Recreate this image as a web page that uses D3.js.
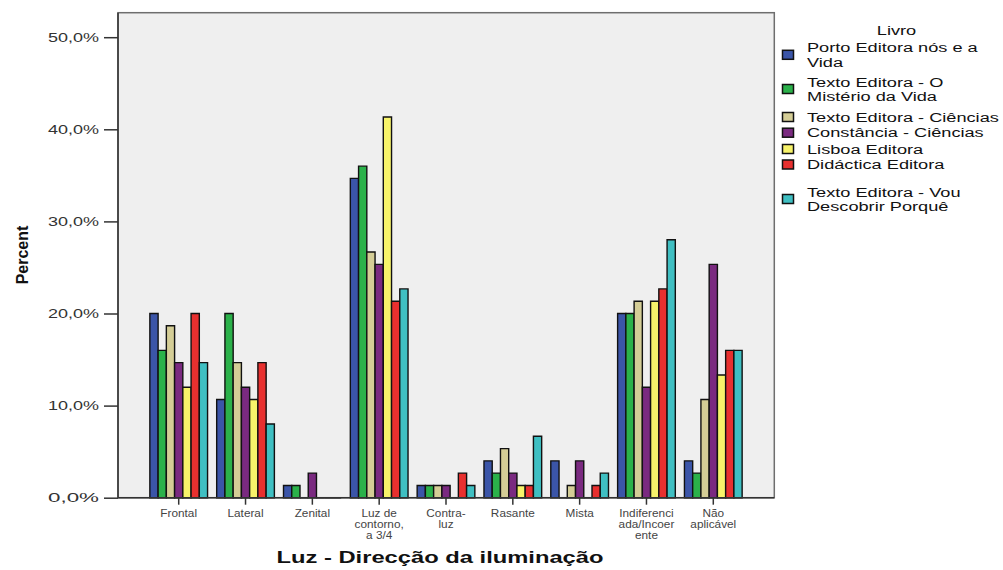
<!DOCTYPE html>
<html><head><meta charset="utf-8">
<script src="https://cdn.jsdelivr.net/npm/d3@7"></script>
<style>
html,body{margin:0;padding:0;background:#fff;}
text{font-family:"Liberation Sans",Arial,sans-serif;}
</style></head>
<body>
<svg id="c" width="1003" height="570"></svg>
<script>
const categories = ["Frontal","Lateral","Zenital","Luz de contorno, a 3/4","Contra-luz","Rasante","Mista","Indiferenciada/Incoerente","Não aplicável"];
const categoryLabelLines = [["Frontal"],["Lateral"],["Zenital"],["Luz de","contorno,","a 3/4"],["Contra-","luz"],["Rasante"],["Mista"],["Indiferenci","ada/Incoer","ente"],["Não","aplicável"]];
const seriesNames = ["Porto Editora nós e a Vida","Texto Editora - O Mistério da Vida","Texto Editora - Ciências","Constância - Ciências","Lisboa Editora","Didáctica Editora","Texto Editora - Vou Descobrir Porquê"];
const seriesLegendLines = [["Porto Editora nós e a","Vida"],["Texto Editora - O","Mistério da Vida"],["Texto Editora - Ciências"],["Constância - Ciências"],["Lisboa Editora"],["Didáctica Editora"],["Texto Editora - Vou","Descobrir Porquê"]];
const seriesColors = ["#3b55a8","#2bb14a","#d4cd96","#7a2a80","#f7f36a","#e8302f","#3fbfc2"];
const portoValues     = [20.0,10.67,1.33,34.67,1.33,4.0,4.0,20.0,4.0];
const misterioValues  = [16.0,20.0,1.33,36.0,1.33,2.67,0,20.0,2.67];
const cienciasValues  = [18.67,14.67,0,26.67,1.33,5.33,1.33,21.33,10.67];
const constanciaValues= [14.67,12.0,2.67,25.33,1.33,2.67,4.0,12.0,25.33];
const lisboaValues    = [12.0,10.67,0,41.33,0,1.33,0,21.33,13.33];
const didacticaValues = [20.0,14.67,0,21.33,2.67,1.33,1.33,22.67,16.0];
const vouValues       = [14.67,8.0,0,22.67,1.33,6.67,2.67,28.0,16.0];
const seriesValues = [portoValues,misterioValues,cienciasValues,constanciaValues,lisboaValues,didacticaValues,vouValues];
const yTicks = [0,10,20,30,40,50];
const yTickLabels = ["0,0%","10,0%","20,0%","30,0%","40,0%","50,0%"];
const yTitle = "Percent";
const xTitle = "Luz - Direcção da iluminação";
const legendTitle = "Livro";

const svg = d3.select("#c");
const plot = {l:118, r:774.3, t:12.7, b:497.7};

const x = d3.scaleBand().domain(categories).range([145.3, 746.7]).padding(0);
const xs = d3.scaleBand().domain(d3.range(seriesNames.length)).range([-28.85, 28.85]).padding(0);
const y = d3.scaleLinear().domain([0, 52.66]).range([plot.b, plot.t]);

svg.append("rect").attr("x",plot.l).attr("y",plot.t).attr("width",plot.r-plot.l).attr("height",plot.b-plot.t)
  .attr("fill","#efefef").attr("stroke","#6e6e6e").attr("stroke-width",1.5);

// bars
const gBars = svg.append("g");
seriesValues.forEach((vals, si) => {
  gBars.selectAll(null).data(vals.map((v,ci)=>({v,ci}))).enter().append("path")
    .attr("d", d => {
      const x0 = x(categories[d.ci]) + x.bandwidth()/2 + xs(si);
      const x1 = x0 + xs.bandwidth();
      const y0 = y(0), y1 = y(d.v);
      return `M${x0},${y0}V${y1}H${x1}V${y0}Z`;
    })
    .attr("fill", seriesColors[si]).attr("stroke","#111").attr("stroke-width",1.4)
    .attr("stroke-linejoin","miter");
});

// y axis
const yAxis = d3.axisLeft(y).tickValues(yTicks).tickSize(14).tickFormat((d,i)=>yTickLabels[i]);
const gy = svg.append("g").attr("transform",`translate(${plot.l},0)`).call(yAxis);
gy.select(".domain").attr("stroke","#333").attr("stroke-width",1.5).attr("d",`M0,${plot.t}V${plot.b}`);
gy.selectAll(".tick line").attr("stroke","#333").attr("stroke-width",1.5);
gy.selectAll(".tick text").attr("x",-19).attr("font-size",12.5).attr("fill","#333")
  .attr("font-family","'Liberation Sans',Arial,sans-serif")
  .attr("textLength",51).attr("lengthAdjust","spacingAndGlyphs");

// x axis
const xAxis = d3.axisBottom(x).tickSize(7).tickFormat("");
const gx = svg.append("g").attr("transform",`translate(0,${plot.b})`).call(xAxis);
gx.select(".domain").attr("stroke","#333").attr("stroke-width",1.5).attr("d",`M${plot.l},0H${plot.r}`);
gx.selectAll(".tick line").attr("stroke","#333").attr("stroke-width",1.5);
gx.selectAll(".tick").each(function(d,i){
  const t = d3.select(this).append("text").attr("text-anchor","middle").attr("font-size",10)
    .attr("fill","#444").attr("y",19).attr("transform","scale(1.18,1)");
  categoryLabelLines[i].forEach((ln,k)=>{
    t.append("tspan").attr("x",0).attr("dy",k===0?0:11.3).text(ln);
  });
});

// titles
svg.append("text").attr("transform","translate(28,255) rotate(-90)").attr("text-anchor","middle")
  .attr("font-size",16).attr("font-weight","bold").attr("fill","#111").text(yTitle);
svg.append("text").attr("x",440).attr("y",563).attr("text-anchor","middle")
  .attr("font-size",17).attr("font-weight","bold").attr("fill","#111").text(xTitle)
  .attr("textLength",327).attr("lengthAdjust","spacingAndGlyphs");

// legend
const lg = svg.append("g");
const legendFont = 13.5;
// measure widest legend line to stretch text like the reference
const probe = lg.append("text").attr("font-size",legendFont).text("Texto Editora - Ciências");
const sx = 192 / probe.node().getComputedTextLength();
probe.remove();
lg.append("text").attr("transform",`translate(896.5,35) scale(${sx},1)`).attr("text-anchor","middle")
  .attr("font-size",legendFont).attr("fill","#111").text(legendTitle);
const legendSwatchY = [54.8, 89, 117, 132.7, 149, 164.5, 199];
seriesLegendLines.forEach((lines, si) => {
  const cy = legendSwatchY[si];
  lg.append("rect").attr("x",782.5).attr("y",cy-4.5).attr("width",11).attr("height",9)
    .attr("fill",seriesColors[si]).attr("stroke","#111").attr("stroke-width",1.5);
  const n = lines.length;
  const t = lg.append("text").attr("transform",`translate(807,0) scale(${sx},1)`)
    .attr("font-size",legendFont).attr("fill","#111");
  lines.forEach((ln,k)=>{
    t.append("tspan").attr("x",0).attr("y", cy + 4.8 + (k - (n-1)/2)*14.2).text(ln);
  });
});
</script>
</body></html>
